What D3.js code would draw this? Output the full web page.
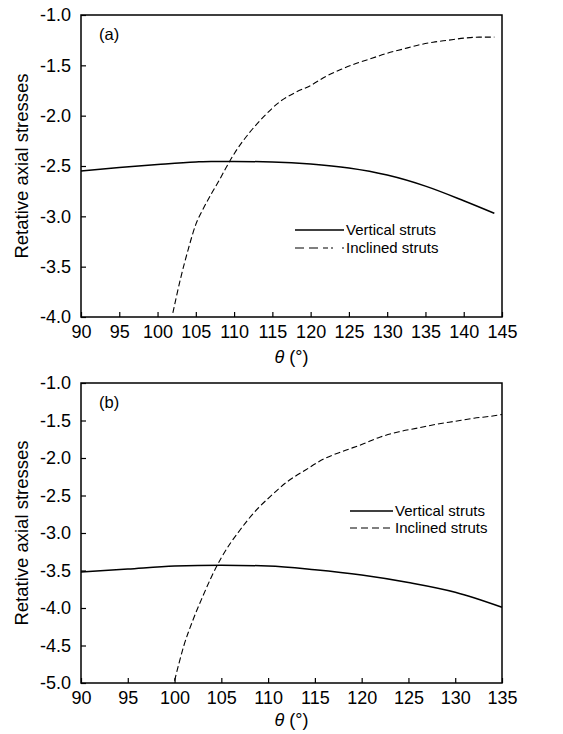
<!DOCTYPE html>
<html>
<head>
<meta charset="utf-8">
<script src="https://cdn.jsdelivr.net/npm/d3@7"></script>
<style>
  body { margin: 0; background: #fff; }
  text { font-family: "Liberation Sans", Arial, sans-serif; fill: #000; }
</style>
</head>
<body>
<div id="chart"></div>
<script>
// ---- data ----
const vertA_theta = [90, 95, 100, 105, 107, 110, 115, 120, 125, 130, 135, 140, 144];
const vertA_stress = [-2.55, -2.515, -2.485, -2.46, -2.455, -2.455, -2.46, -2.48, -2.52, -2.59, -2.70, -2.845, -2.97];

const inclA_theta = [102, 103, 104, 105, 106, 107, 108, 109, 110, 112, 114, 116, 118, 120, 122, 124, 126, 128, 130, 132, 134, 136, 138, 140, 142, 144];
const inclA_stress = [-3.96, -3.62, -3.33, -3.08, -2.92, -2.78, -2.65, -2.51, -2.38, -2.17, -2.0, -1.86, -1.77, -1.70, -1.61, -1.54, -1.48, -1.43, -1.38, -1.34, -1.30, -1.27, -1.25, -1.23, -1.22, -1.22];

const vertB_theta = [90, 95, 100, 105, 110, 115, 120, 125, 130, 135];
const vertB_stress = [-3.52, -3.48, -3.44, -3.43, -3.44, -3.49, -3.56, -3.66, -3.79, -3.99];

const inclB_theta = [100, 101, 102, 103, 104, 105, 106, 107, 108, 109, 110, 112, 114, 116, 118, 120, 122, 124, 126, 128, 130, 132, 134, 135];
const inclB_stress = [-4.97, -4.50, -4.15, -3.85, -3.57, -3.33, -3.13, -2.96, -2.80, -2.66, -2.54, -2.32, -2.16, -2.01, -1.91, -1.82, -1.72, -1.65, -1.60, -1.55, -1.51, -1.47, -1.44, -1.42];

const xTicksA = d3.range(90, 146, 5);
const yTicksA = d3.range(-4, -0.99, 0.5);
const xTicksB = d3.range(90, 136, 5);
const yTicksB = d3.range(-5, -0.99, 0.5);

const seriesNames = ["Vertical struts", "Inclined struts"];

const W = 563, H = 734;
const svg = d3.select("#chart").append("svg")
  .attr("width", W)
  .attr("height", H);

// plain hyphen minus, like the original figure
const fmtY = d => d3.format(".1f")(d).replace("\u2212", "-");

function drawPanel(opts) {
  const { top, bottom, xDomain, yDomain, xTicks, yTicks, tag, vert, incl, legend, titleGap } = opts;
  const left = 81, right = 502;

  const x = d3.scaleLinear().domain(xDomain).range([left, right]);
  const y = d3.scaleLinear().domain(yDomain).range([bottom, top]);

  const g = svg.append("g");

  // curves
  const line = d3.line()
    .x(d => x(d[0]))
    .y(d => y(d[1]))
    .curve(d3.curveMonotoneX);

  g.append("path")
    .datum(d3.zip(vert.theta, vert.stress))
    .attr("d", line)
    .attr("fill", "none")
    .attr("stroke", "#000")
    .attr("stroke-width", 1.5);

  g.append("path")
    .datum(d3.zip(incl.theta, incl.stress))
    .attr("d", line)
    .attr("fill", "none")
    .attr("stroke", "#000")
    .attr("stroke-width", 1.1)
    .attr("stroke-dasharray", "6,3");

  // x axis, inward ticks
  const xAxis = g.append("g")
    .attr("transform", `translate(0,${bottom})`)
    .call(d3.axisBottom(x).tickValues(xTicks).tickSizeInner(-5).tickSizeOuter(0)
      .tickFormat(d3.format("d")));
  xAxis.select(".domain").remove();
  xAxis.selectAll("line").attr("stroke-width", 1.2);
  xAxis.selectAll("text")
    .attr("font-size", 18)
    .attr("dy", null)
    .attr("y", 21);

  // y axis, inward ticks
  const yAxis = g.append("g")
    .attr("transform", `translate(${left},0)`)
    .call(d3.axisLeft(y).tickValues(yTicks).tickSizeInner(-5).tickSizeOuter(0)
      .tickFormat(fmtY));
  yAxis.select(".domain").remove();
  yAxis.selectAll("line").attr("stroke-width", 1.2);
  yAxis.selectAll("text")
    .attr("font-size", 18)
    .attr("x", -10);

  // frame
  g.append("rect")
    .attr("x", left).attr("y", top)
    .attr("width", right - left).attr("height", bottom - top)
    .attr("fill", "none")
    .attr("stroke", "#000")
    .attr("stroke-width", 1.5);

  // panel tag
  g.append("text")
    .attr("x", 99).attr("y", top + 25)
    .attr("font-size", 16.5)
    .text(tag);

  // axis titles
  const xt = g.append("text")
    .attr("x", (left + right) / 2)
    .attr("y", bottom + titleGap)
    .attr("text-anchor", "middle")
    .attr("font-size", 18);
  xt.append("tspan").attr("font-style", "italic").text("θ");
  xt.append("tspan").text(" (°)");

  g.append("text")
    .attr("transform", `translate(28,${(top + bottom) / 2}) rotate(-90)`)
    .attr("text-anchor", "middle")
    .attr("font-size", 18.5)
    .text("Retative axial stresses");

  // legend
  const lg = g.append("g");
  const rows = [
    { name: seriesNames[0], dash: null, w: 1.5 },
    { name: seriesNames[1], dash: legend.dash, w: 1.1 }
  ];
  rows.forEach((r, i) => {
    const yy = legend.y + i * legend.gap;
    lg.append("line")
      .attr("x1", legend.x1).attr("x2", legend.x2)
      .attr("y1", yy).attr("y2", yy)
      .attr("stroke", "#000")
      .attr("stroke-width", r.w)
      .attr("stroke-dasharray", r.dash);
    lg.append("text")
      .attr("x", legend.x2 + 2)
      .attr("y", yy)
      .attr("dy", "0.35em")
      .attr("font-size", 15)
      .text(r.name);
  });
}

drawPanel({
  top: 15, bottom: 317,
  xDomain: [90, 145], yDomain: [-4, -1],
  xTicks: xTicksA, yTicks: yTicksA,
  tag: "(a)", titleGap: 46,
  vert: { theta: vertA_theta, stress: vertA_stress },
  incl: { theta: inclA_theta, stress: inclA_stress },
  legend: { x1: 295, x2: 344, y: 230, gap: 18, dash: "9,5,9,5,5,3,2" }
});

drawPanel({
  top: 383, bottom: 683,
  xDomain: [90, 135], yDomain: [-5, -1],
  xTicks: xTicksB, yTicks: yTicksB,
  tag: "(b)", titleGap: 43,
  vert: { theta: vertB_theta, stress: vertB_stress },
  incl: { theta: inclB_theta, stress: inclB_stress },
  legend: { x1: 350, x2: 393, y: 511, gap: 17, dash: "7,4" }
});
</script>
</body>
</html>
